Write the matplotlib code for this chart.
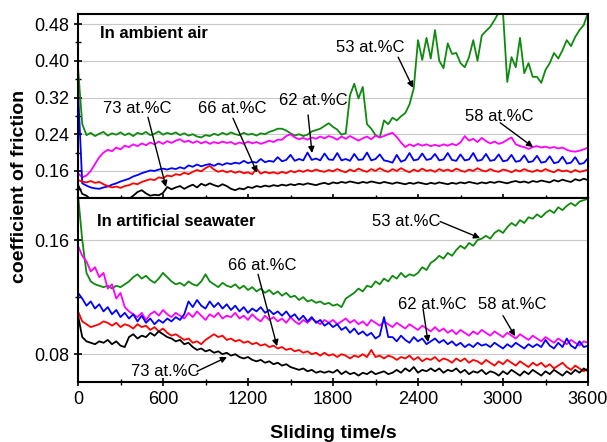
import numpy as np
import matplotlib
matplotlib.use('Agg')
import matplotlib.pyplot as plt
from matplotlib.ticker import MultipleLocator

plt.rcParams['font.family'] = ['Liberation Sans', 'DejaVu Sans']

# sliding time, one reading every 30 s
t = np.arange(0, 3601, 30)

# ---- ambient air ----
air_53 = [0.385, 0.262, 0.238, 0.243, 0.236, 0.241, 0.245, 0.237, 0.242, 0.239, 0.244, 0.238,
          0.242, 0.236, 0.243, 0.240, 0.245, 0.238, 0.241, 0.246, 0.239, 0.243, 0.240, 0.244,
          0.238, 0.242, 0.237, 0.240, 0.235, 0.233, 0.238, 0.236, 0.241, 0.238, 0.243, 0.239,
          0.244, 0.240, 0.238, 0.243, 0.239, 0.241, 0.237, 0.242, 0.240, 0.245, 0.248, 0.252,
          0.252, 0.248, 0.242, 0.237, 0.240, 0.236, 0.239, 0.246, 0.249, 0.252, 0.258, 0.264,
          0.256, 0.250, 0.239, 0.242, 0.325, 0.350, 0.318, 0.343, 0.262, 0.252, 0.238, 0.233,
          0.270, 0.262, 0.276, 0.270, 0.279, 0.286, 0.305, 0.340, 0.445, 0.402, 0.450, 0.405,
          0.467, 0.400, 0.384, 0.438, 0.415, 0.417, 0.395, 0.386, 0.408, 0.445, 0.400, 0.455,
          0.465, 0.474, 0.489, 0.505, 0.505, 0.354, 0.408, 0.386, 0.450, 0.373, 0.395, 0.365,
          0.365, 0.352, 0.380, 0.395, 0.417, 0.405, 0.423, 0.445, 0.432, 0.452, 0.467, 0.478,
          0.505]
air_58 = [0.155, 0.146, 0.150, 0.160, 0.175, 0.190, 0.200, 0.206, 0.203, 0.211, 0.207, 0.215,
          0.212, 0.218, 0.214, 0.220, 0.216, 0.222, 0.218, 0.224, 0.219, 0.225, 0.221, 0.226,
          0.229, 0.223, 0.226, 0.221, 0.225, 0.220, 0.224, 0.219, 0.223, 0.220, 0.224, 0.221,
          0.223, 0.218, 0.222, 0.219, 0.224, 0.220, 0.223, 0.219, 0.222, 0.226, 0.223, 0.228,
          0.228, 0.236, 0.240, 0.233, 0.229, 0.232, 0.228, 0.233, 0.230, 0.235, 0.231, 0.236,
          0.233, 0.228, 0.235, 0.230, 0.236, 0.231, 0.226, 0.231, 0.235, 0.229, 0.237, 0.233,
          0.236, 0.240, 0.243, 0.234, 0.222, 0.212, 0.218, 0.214, 0.219, 0.215, 0.218, 0.214,
          0.217, 0.214, 0.218, 0.215, 0.219, 0.216, 0.222, 0.236, 0.226, 0.230, 0.223, 0.232,
          0.225, 0.220, 0.224, 0.219, 0.222, 0.228, 0.233, 0.218, 0.214, 0.212, 0.208, 0.212,
          0.214, 0.211, 0.213, 0.210, 0.212, 0.209, 0.211, 0.206, 0.203, 0.202, 0.204, 0.207,
          0.211]
air_62 = [0.336, 0.133, 0.128, 0.124, 0.122, 0.121, 0.124, 0.126, 0.130, 0.133, 0.137, 0.140,
          0.143, 0.148, 0.151, 0.155, 0.158, 0.161, 0.160, 0.163, 0.165, 0.163, 0.166, 0.164,
          0.168, 0.165, 0.172, 0.169, 0.174, 0.170, 0.173, 0.175, 0.171, 0.176, 0.173, 0.177,
          0.175, 0.178, 0.176, 0.182, 0.177, 0.180, 0.178, 0.186, 0.179, 0.182, 0.180, 0.190,
          0.181, 0.184, 0.195, 0.182, 0.186, 0.183, 0.200, 0.184, 0.187, 0.183, 0.198, 0.185,
          0.184, 0.199, 0.183, 0.186, 0.182, 0.197, 0.184, 0.185, 0.200, 0.183, 0.186, 0.196,
          0.183, 0.181, 0.178, 0.195, 0.180, 0.184, 0.199, 0.183, 0.185, 0.198, 0.184, 0.186,
          0.197, 0.183, 0.185, 0.199, 0.184, 0.182, 0.196, 0.183, 0.185, 0.199, 0.182, 0.184,
          0.197, 0.182, 0.184, 0.196, 0.181, 0.183, 0.195, 0.180, 0.182, 0.194, 0.179, 0.181,
          0.193, 0.178, 0.180, 0.192, 0.177, 0.179, 0.191, 0.176, 0.178, 0.190, 0.175, 0.177,
          0.188]
air_66 = [0.140, 0.137, 0.135, 0.138, 0.134, 0.136, 0.131, 0.127, 0.124, 0.126, 0.123, 0.127,
          0.129, 0.133, 0.131, 0.136, 0.139, 0.142, 0.140, 0.146, 0.144, 0.150, 0.148, 0.153,
          0.151, 0.156, 0.153, 0.158, 0.162, 0.159, 0.166, 0.171, 0.163, 0.158, 0.161, 0.157,
          0.160, 0.156, 0.159, 0.155, 0.157, 0.153, 0.165, 0.154, 0.158, 0.155, 0.157, 0.154,
          0.158, 0.155, 0.160, 0.157, 0.161, 0.158, 0.162, 0.159, 0.163, 0.160, 0.158, 0.162,
          0.159, 0.164, 0.160, 0.157, 0.163, 0.159, 0.165, 0.161, 0.158, 0.164, 0.160, 0.166,
          0.161, 0.158, 0.164, 0.160, 0.166, 0.161, 0.157, 0.163, 0.159, 0.165, 0.160, 0.162,
          0.158, 0.164, 0.160, 0.163, 0.159, 0.165, 0.161, 0.158, 0.163, 0.160, 0.166, 0.161,
          0.159, 0.164, 0.160, 0.158, 0.163, 0.161, 0.157, 0.162, 0.159, 0.164, 0.160, 0.158,
          0.162, 0.159, 0.164, 0.160, 0.157, 0.163, 0.159, 0.161, 0.157, 0.162, 0.158, 0.160,
          0.163]
air_73 = [0.130, 0.110, 0.106, 0.098, 0.094, 0.093, 0.092, 0.094, 0.093, 0.095, 0.096, 0.097,
          0.099, 0.106, 0.114, 0.118, 0.111, 0.106, 0.108, 0.107, 0.112, 0.125, 0.120, 0.124,
          0.127, 0.121, 0.126, 0.130, 0.124, 0.132, 0.128, 0.133, 0.129, 0.126, 0.131, 0.127,
          0.121, 0.118, 0.122, 0.120, 0.125, 0.123, 0.127, 0.125, 0.128, 0.126, 0.129, 0.127,
          0.130, 0.128, 0.131, 0.129, 0.132, 0.130, 0.133, 0.131, 0.129, 0.132, 0.134, 0.131,
          0.135, 0.133, 0.136, 0.134, 0.137, 0.135, 0.133, 0.136, 0.134, 0.137, 0.135, 0.133,
          0.136, 0.134, 0.132, 0.135, 0.133, 0.131, 0.134, 0.132, 0.135, 0.133, 0.131, 0.134,
          0.132, 0.135, 0.133, 0.131, 0.134, 0.132, 0.135, 0.133, 0.136, 0.134, 0.132, 0.135,
          0.133, 0.136, 0.134, 0.137, 0.135, 0.133, 0.136, 0.138, 0.135, 0.137, 0.134, 0.138,
          0.136, 0.139, 0.137, 0.135, 0.140, 0.137, 0.141, 0.138, 0.136, 0.142, 0.139, 0.143,
          0.140]

# ---- artificial seawater ----
sw_53 = [0.192, 0.160, 0.137, 0.131, 0.129, 0.128, 0.127, 0.128, 0.126, 0.128, 0.127, 0.129,
         0.131, 0.134, 0.136, 0.133, 0.135, 0.132, 0.130, 0.133, 0.137, 0.134, 0.131, 0.129,
         0.130, 0.128, 0.131, 0.129, 0.128, 0.131, 0.136, 0.131, 0.129, 0.127, 0.130, 0.128,
         0.127, 0.129, 0.126, 0.128, 0.125, 0.127, 0.124, 0.126, 0.123, 0.125, 0.122, 0.124,
         0.121, 0.123, 0.120, 0.121, 0.118, 0.120, 0.117, 0.118, 0.116, 0.117, 0.115, 0.116,
         0.114, 0.115, 0.113, 0.119, 0.121, 0.123, 0.126, 0.124, 0.128, 0.127, 0.131, 0.129,
         0.133, 0.131, 0.135, 0.133, 0.137, 0.134, 0.136, 0.135, 0.137, 0.141, 0.139, 0.144,
         0.146, 0.149, 0.147, 0.151, 0.149, 0.153, 0.156, 0.154, 0.158, 0.156, 0.160, 0.161,
         0.163, 0.161, 0.165, 0.167, 0.165, 0.169, 0.172, 0.170, 0.174, 0.172, 0.176, 0.175,
         0.178, 0.176, 0.179, 0.181, 0.179, 0.183, 0.181, 0.184, 0.186, 0.184, 0.187, 0.188,
         0.189]
sw_58 = [0.156, 0.149, 0.145, 0.138, 0.141, 0.134, 0.137, 0.126, 0.129, 0.119, 0.123, 0.113,
         0.110, 0.108, 0.106, 0.109, 0.104, 0.108, 0.110, 0.107, 0.111, 0.108, 0.106, 0.109,
         0.107, 0.105, 0.109, 0.106, 0.110, 0.107, 0.104, 0.108, 0.106, 0.109, 0.105, 0.107,
         0.106, 0.109, 0.105, 0.107, 0.104, 0.108, 0.105, 0.103, 0.107, 0.104, 0.106, 0.103,
         0.105, 0.102, 0.106, 0.103, 0.101, 0.104, 0.102, 0.105, 0.103, 0.101, 0.104, 0.102,
         0.104, 0.101, 0.103, 0.105, 0.102, 0.104, 0.101, 0.103, 0.100, 0.104, 0.102, 0.100,
         0.103, 0.101, 0.099, 0.102, 0.100, 0.098, 0.101, 0.099, 0.097, 0.100, 0.098, 0.096,
         0.099, 0.096, 0.098, 0.095, 0.097, 0.094, 0.097, 0.095, 0.093, 0.096, 0.094, 0.097,
         0.095, 0.093, 0.096, 0.094, 0.092, 0.095, 0.093, 0.091, 0.094, 0.092, 0.090, 0.093,
         0.091, 0.089, 0.092, 0.090, 0.088, 0.091, 0.089, 0.087, 0.090, 0.088, 0.086, 0.089,
         0.088]
sw_62 = [0.123, 0.119, 0.114, 0.117, 0.112, 0.115, 0.110, 0.113, 0.108, 0.111, 0.106, 0.109,
         0.105, 0.108, 0.103, 0.107, 0.102, 0.105, 0.101, 0.104, 0.102, 0.105, 0.103, 0.106,
         0.104, 0.108, 0.117, 0.113, 0.118, 0.114, 0.112, 0.117, 0.113, 0.116, 0.112, 0.115,
         0.111, 0.114, 0.110, 0.113, 0.109, 0.112, 0.110, 0.113, 0.109, 0.111, 0.108, 0.110,
         0.107, 0.110, 0.106, 0.108, 0.104, 0.107, 0.103, 0.106, 0.102, 0.104, 0.100, 0.102,
         0.099, 0.101, 0.097, 0.099, 0.095, 0.098, 0.094, 0.096, 0.093, 0.095, 0.091, 0.093,
         0.106, 0.092, 0.092, 0.089, 0.093, 0.090, 0.088, 0.092, 0.089, 0.091, 0.087, 0.089,
         0.091, 0.088, 0.090, 0.087, 0.089, 0.086, 0.088, 0.085, 0.087, 0.085, 0.088, 0.086,
         0.087, 0.085, 0.088, 0.086, 0.084, 0.087, 0.085, 0.088, 0.086, 0.084, 0.087, 0.085,
         0.087, 0.085, 0.090, 0.086, 0.084, 0.088, 0.085, 0.091, 0.086, 0.084, 0.089, 0.085,
         0.086]
sw_66 = [0.110, 0.103, 0.101, 0.099, 0.100, 0.101, 0.103, 0.102, 0.100, 0.102, 0.099, 0.101,
         0.100, 0.098, 0.101, 0.099, 0.100, 0.097, 0.099, 0.096, 0.098, 0.095, 0.093, 0.094,
         0.092, 0.090, 0.091, 0.088, 0.089, 0.087, 0.090, 0.092, 0.094, 0.092, 0.093, 0.090,
         0.091, 0.089, 0.090, 0.088, 0.089, 0.087, 0.088, 0.086, 0.087, 0.085, 0.086, 0.084,
         0.085, 0.083, 0.084, 0.082, 0.083, 0.081, 0.082, 0.080, 0.081, 0.079, 0.081, 0.079,
         0.080, 0.078, 0.080, 0.079, 0.077, 0.079, 0.078, 0.080, 0.078, 0.083, 0.078, 0.079,
         0.077, 0.079, 0.078, 0.076, 0.078, 0.077, 0.079, 0.076, 0.078, 0.075, 0.077, 0.076,
         0.078, 0.075, 0.077, 0.076, 0.074, 0.077, 0.075, 0.077, 0.074, 0.076, 0.075, 0.073,
         0.076, 0.074, 0.072, 0.075, 0.073, 0.076, 0.074, 0.072, 0.075, 0.073, 0.071, 0.074,
         0.072, 0.074, 0.071, 0.073, 0.070, 0.072, 0.074, 0.071, 0.069, 0.072, 0.070, 0.068,
         0.070]
sw_73 = [0.107, 0.092, 0.089, 0.088, 0.087, 0.089, 0.088, 0.090, 0.087, 0.089, 0.086, 0.085,
         0.092, 0.094, 0.091, 0.093, 0.092, 0.095, 0.093, 0.096, 0.094, 0.092, 0.091, 0.089,
         0.090, 0.087, 0.088, 0.085, 0.083, 0.084, 0.082, 0.083, 0.081, 0.082, 0.080, 0.081,
         0.079, 0.080, 0.078, 0.077, 0.078, 0.076, 0.075, 0.076, 0.074, 0.075, 0.073, 0.074,
         0.072, 0.073, 0.071, 0.070, 0.069, 0.070, 0.068, 0.069, 0.067, 0.068, 0.067, 0.068,
         0.067, 0.069, 0.066, 0.068, 0.066, 0.067, 0.065, 0.067, 0.066, 0.068, 0.066, 0.067,
         0.068, 0.066, 0.067, 0.069, 0.067, 0.070, 0.068, 0.071, 0.067, 0.069, 0.068, 0.070,
         0.068, 0.070, 0.067, 0.069, 0.068, 0.070, 0.067, 0.069, 0.066, 0.068, 0.067, 0.069,
         0.066, 0.068, 0.067, 0.065, 0.068, 0.066, 0.069, 0.067, 0.065, 0.068, 0.066, 0.069,
         0.067, 0.065, 0.068, 0.066, 0.069, 0.067, 0.065, 0.068, 0.066, 0.069, 0.067, 0.070,
         0.068]

colors = {'53': '#0f8a0f', '58': '#ff00ff', '62': '#0000ff', '66': '#ff0000', '73': '#000000'}

fig = plt.figure(figsize=(6.07, 4.42), dpi=100)
ax1 = fig.add_axes([78 / 607, 1 - 198 / 442, 510 / 607, 184 / 442])
ax2 = fig.add_axes([78 / 607, 1 - 382 / 442, 510 / 607, 184 / 442])

for y, k in [(air_53, '53'), (air_58, '58'), (air_62, '62'), (air_66, '66'), (air_73, '73')]:
    ax1.plot(t, y, color=colors[k], lw=1.3)
for y, k in [(sw_53, '53'), (sw_58, '58'), (sw_62, '62'), (sw_66, '66'), (sw_73, '73')]:
    ax2.plot(t, y, color=colors[k], lw=1.3)

ax1.set_ylim(0.101, 0.502)
ax2.set_ylim(0.0605, 0.1895)
ax1.yaxis.set_major_locator(MultipleLocator(0.08))
ax1.yaxis.set_minor_locator(MultipleLocator(0.04))
ax2.yaxis.set_major_locator(MultipleLocator(0.08))
ax2.yaxis.set_minor_locator(MultipleLocator(0.04))

for ax in (ax1, ax2):
    ax.set_xlim(0, 3600)
    ax.xaxis.set_major_locator(MultipleLocator(600))
    ax.xaxis.set_minor_locator(MultipleLocator(300))
    ax.grid(axis='y', which='major', color='#c8c8c8', lw=0.8)
    ax.set_axisbelow(True)
    ax.tick_params(which='major', direction='inout', length=6, width=1.2, labelsize=13)
    ax.tick_params(which='minor', direction='inout', length=4, width=1.0)
    for s in ax.spines.values():
        s.set_linewidth(1.5)
ax1.tick_params(axis='x', labelbottom=False)
ax1.set_yticklabels(['%.2f' % v for v in ax1.get_yticks()])
ax2.set_yticklabels(['%.2f' % v for v in ax2.get_yticks()])

ax1.text(155, 0.460, 'In ambient air', fontsize=12, fontweight='bold', va='center')
ax2.text(134, 0.1733, 'In artificial seawater', fontsize=12, fontweight='bold', va='center')

arrow = dict(arrowstyle='-|>', color='black', lw=1.0, mutation_scale=9, shrinkA=0, shrinkB=0)

# labels and arrows, top panel
top_labels = [('73 at.%C', 416, 0.297, (494, 0.277), (621, 0.125)),
              ('66 at.%C', 1087, 0.297, (1094, 0.275), (1264, 0.156)),
              ('62 at.%C', 1659, 0.3145, (1624, 0.282), (1652, 0.199)),
              ('53 at.%C', 2061, 0.428, (2260, 0.408), (2365, 0.341)),
              ('58 at.%C', 2972, 0.2776, (2980, 0.265), (3212, 0.212))]
for s, x, y, tail, head in top_labels:
    ax1.text(x, y, s, fontsize=12, ha='center', va='center')
    ax1.annotate('', xy=head, xytext=tail, arrowprops=arrow)

# labels and arrows, bottom panel
bottom_labels = [('66 at.%C', 1299, 0.1424, (1271, 0.136), (1405, 0.0856)),
                 ('73 at.%C', 614, 0.068, (840, 0.068), (1052, 0.078)),
                 ('53 at.%C', 2315, 0.1733, (2556, 0.173), (2838, 0.1614)),
                 ('62 at.%C', 2499, 0.115, (2436, 0.1116), (2471, 0.0884)),
                 ('58 at.%C', 3064, 0.115, (3000, 0.107), (3085, 0.0926))]
for s, x, y, tail, head in bottom_labels:
    ax2.text(x, y, s, fontsize=12, ha='center', va='center')
    ax2.annotate('', xy=head, xytext=tail, arrowprops=arrow)

fig.text(20 / 607, 1 - 186 / 442, 'coefficient of friction', rotation=90, fontsize=14,
         fontweight='bold', ha='center', va='center')
fig.text(333 / 607, 1 - 433 / 442, 'Sliding time/s', fontsize=14, fontweight='bold',
         ha='center', va='center')

fig.savefig('out.png', dpi=100)
